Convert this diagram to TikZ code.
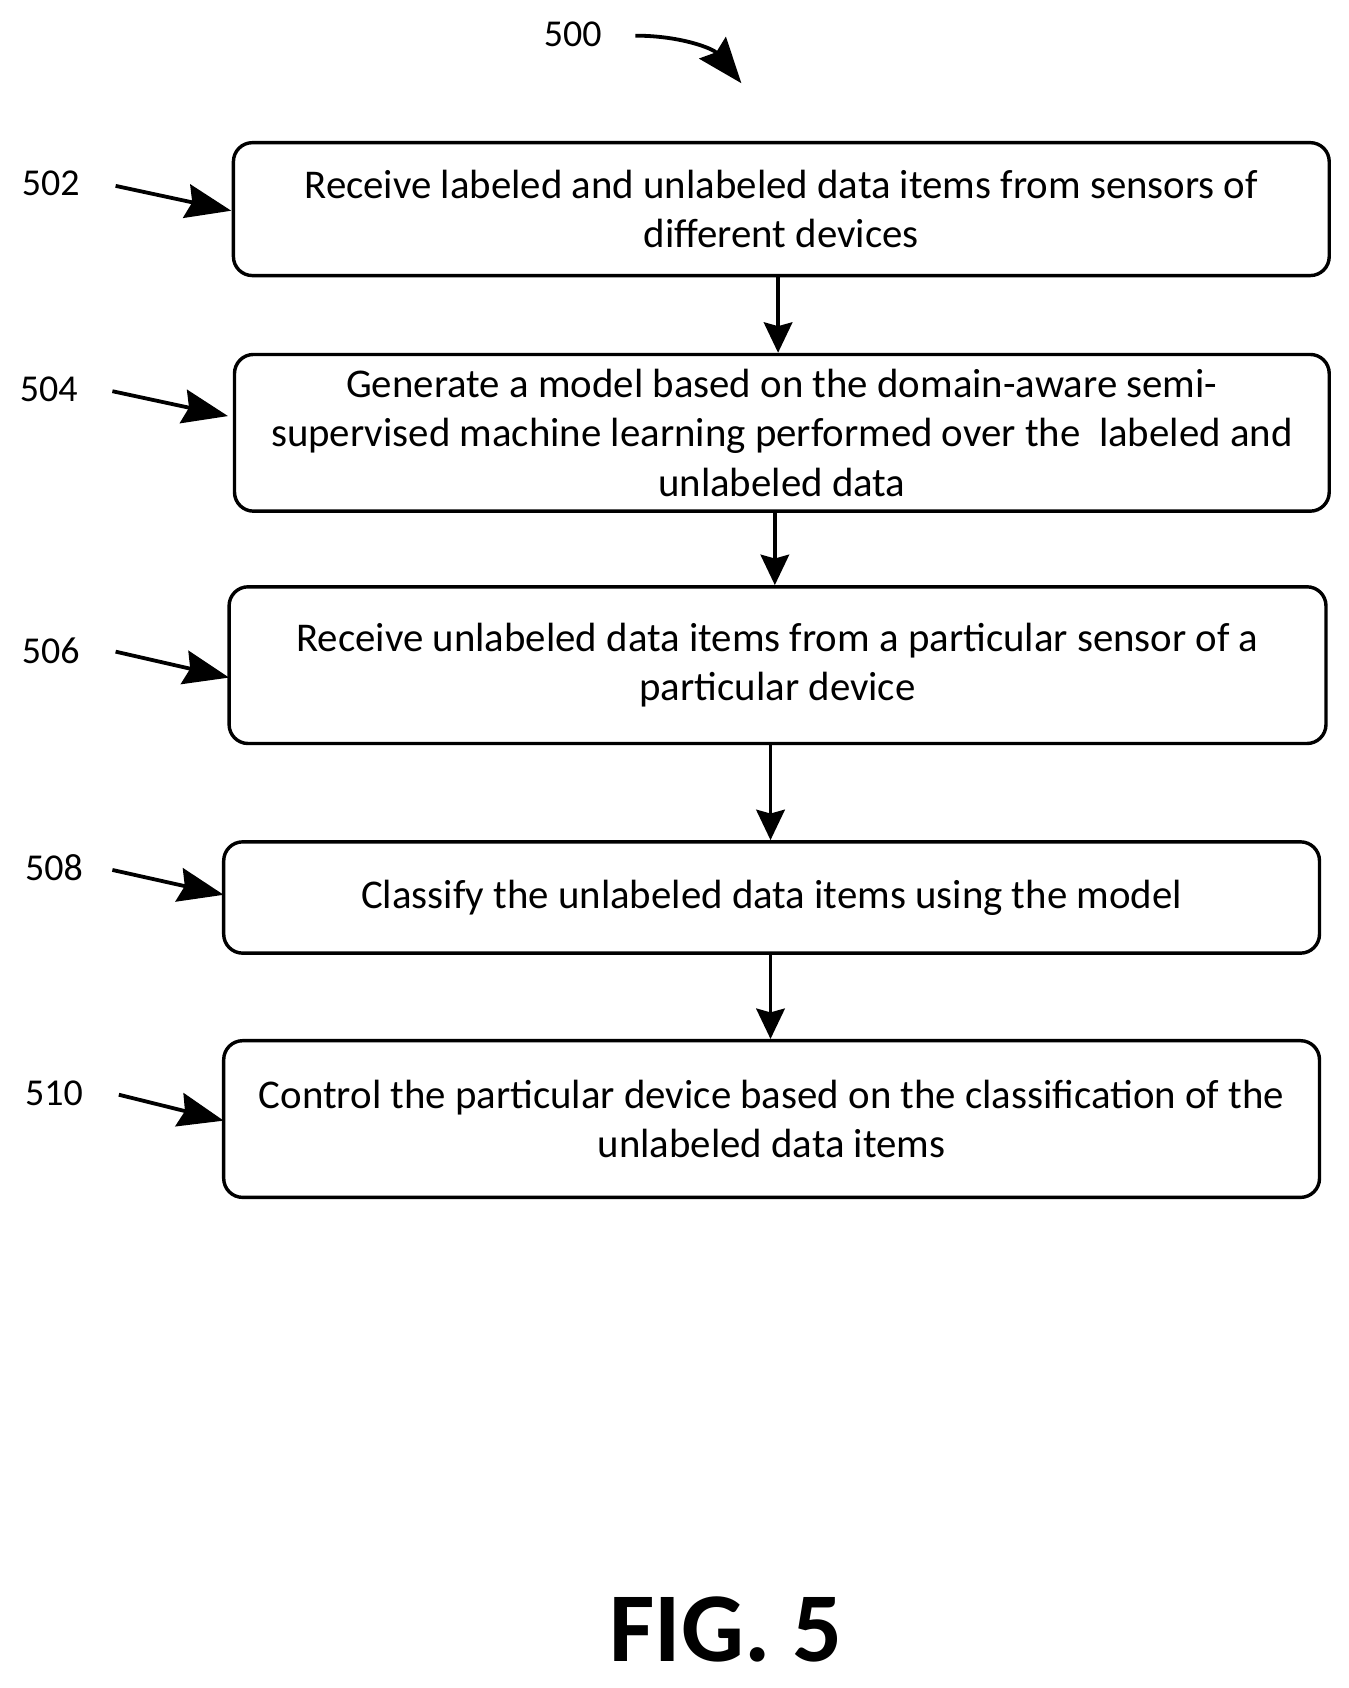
\documentclass[tikz,border=0pt]{standalone}
\usepackage{fontspec}
\setmainfont{Carlito}
\usetikzlibrary{arrows.meta}
\begin{document}
\begin{tikzpicture}[x=0.02cm,y=-0.02cm,
  box/.style={draw,line width=1.8pt,rounded corners=10pt,align=center,font=\fontsize{21.5}{26}\selectfont,inner sep=0pt},
  lab/.style={font=\fontsize{20}{24}\selectfont},
  arr/.style={line width=2pt,-{Stealth[length=24pt,width=18pt,inset=3pt]}},
  flow/.style={line width=2pt,-{Stealth[length=16pt,width=15pt,inset=2pt]}}]
\useasboundingbox (0,0) rectangle (1248,1562);
\node[box,minimum width=1014*0.02cm,minimum height=123*0.02cm] (b502) at (723,193.5) {Receive labeled and unlabeled data items from sensors of\\different devices};
\node[box,minimum width=1013*0.02cm,minimum height=145*0.02cm] (b504) at (723.5,400.5) {Generate a model based on the domain-aware semi-\\supervised machine learning performed over the\ \ labeled and\\unlabeled data};
\node[box,minimum width=1015*0.02cm,minimum height=145*0.02cm] (b506) at (719.5,615.5) {Receive unlabeled data items from a particular sensor of a\\particular device};
\node[box,minimum width=1014*0.02cm,minimum height=103*0.02cm] (b508) at (714,830.5) {Classify the unlabeled data items using the model};
\node[box,minimum width=1014*0.02cm,minimum height=145*0.02cm] (b510) at (714,1035.5) {Control the particular device based on the classification of the\\unlabeled data items};
\draw[flow] (b502.south -| 720,0) -- (b504.north -| 720,0);
\draw[flow] (b504.south -| 717,0) -- (b506.north -| 717,0);
\draw[flow] (b506.south -| 713,0) -- (b508.north -| 713,0);
\draw[flow] (b508.south -| 713,0) -- (b510.north -| 713,0);
\node[lab] (l500) at (530,32) {500};
\node[lab] (l502) at (47,170) {502};
\node[lab] (l504) at (45,360) {504};
\node[lab] (l506) at (47,602) {506};
\node[lab] (l508) at (50,803) {508};
\node[lab] (l510) at (50,1012) {510};
\coordinate (s500) at (588,33); \coordinate (e500) at (686,77);
\draw[arr] (s500) .. controls (630,33) and (660,45) .. (e500);
\coordinate (s502) at (107,172); \coordinate (e502) at (214,195);
\coordinate (s504) at (104,362); \coordinate (e504) at (211,385);
\coordinate (s506) at (107,603); \coordinate (e506) at (212,627);
\coordinate (s508) at (104,805); \coordinate (e508) at (207,828);
\coordinate (s510) at (110,1013); \coordinate (e510) at (207,1037);
\foreach \n in {502,504,506,508,510} \draw[arr] (s\n) -- (e\n);
\node[font=\bfseries\fontsize{52}{58}\selectfont,inner sep=0pt] (fig) at (672,1508) {FIG. 5};
\end{tikzpicture}
\end{document}
